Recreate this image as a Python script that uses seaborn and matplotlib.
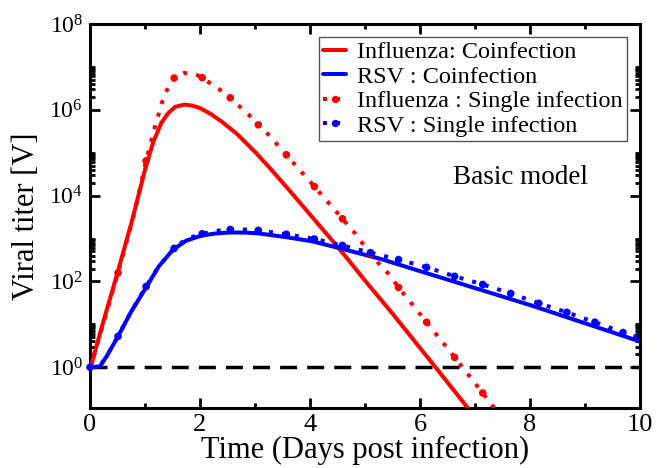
import numpy as np
import pandas as pd
import matplotlib
matplotlib.use("Agg")
import matplotlib.pyplot as plt
import seaborn as sns
from matplotlib.lines import Line2D
from matplotlib.legend_handler import HandlerLine2D
from matplotlib.ticker import FixedLocator, FuncFormatter

# ---------------- data (log10 of viral titer) ----------------
flu_co_t = [0, 0.25, 0.5, 0.75, 1.0, 1.15, 1.3, 1.42, 1.55, 1.71, 1.85, 2.0, 2.2, 2.4,
            2.67, 3.0, 3.3, 3.64, 4.0, 4.36, 4.7, 5.0, 5.5, 6.0, 6.27, 6.87, 7.2]
flu_co_log = [-0.05, 1.1, 2.2, 3.35, 4.6, 5.25, 5.7, 5.92, 6.07, 6.12, 6.1, 6.04, 5.9, 5.72,
              5.44, 5.02, 4.6, 4.1, 3.56, 3.02, 2.5, 2.02, 1.25, 0.45, 0.02, -0.95, -1.5]

rsv_co_t = [0, 0.18, 0.3, 0.51, 0.75, 1.03, 1.25, 1.51, 1.75, 2.03, 2.3, 2.55, 2.8,
            3.06, 3.58, 4.06, 4.55, 5.27, 6.0, 8.0, 10.0]
rsv_co_log = [0.0, 0.02, 0.25, 0.72, 1.3, 1.88, 2.35, 2.74, 2.95, 3.07, 3.12, 3.14, 3.14,
              3.12, 3.03, 2.93, 2.77, 2.53, 2.24, 1.45, 0.6]

flu_si_t = [0, 0.51, 0.8, 1.02, 1.11, 1.17, 1.24, 1.3, 1.38, 1.53, 1.71, 1.94, 2.04, 2.15,
            2.35, 2.55, 2.71, 2.89, 3.06, 3.23, 3.39, 3.57, 4.08, 4.59, 4.82, 4.96, 5.1,
            5.25, 5.42, 5.61, 6.12, 6.63, 7.14, 7.35, 7.6]
flu_si_log = [-0.05, 2.2, 3.55, 4.81, 5.26, 5.56, 5.86, 6.14, 6.42, 6.74, 6.86, 6.81, 6.75,
              6.65, 6.48, 6.28, 6.09, 5.88, 5.65, 5.44, 5.21, 4.95, 4.21, 3.46, 3.12, 2.88,
              2.65, 2.42, 2.19, 1.86, 1.05, 0.23, -0.6, -0.95, -1.35]
flu_si_mark_t = [0.51, 1.02, 1.53, 2.04, 2.55, 3.06, 3.57, 4.08, 4.59, 5.1, 5.61, 6.12,
                 6.63, 7.14]
flu_si_mark_log = [2.2, 4.81, 6.74, 6.75, 6.28, 5.65, 4.95, 4.21, 3.46, 2.65, 1.86, 1.05,
                   0.23, -0.6]

rsv_si_t = [0, 0.18, 0.3, 0.51, 0.75, 1.02, 1.25, 1.53, 1.75, 2.04, 2.3, 2.55, 2.8, 3.06,
            3.57, 4.08, 4.59, 5.1, 5.61, 6.12, 6.63, 7.14, 7.65, 8.16, 8.67, 9.18, 9.69,
            10.0]
rsv_si_log = [0.0, 0.03, 0.25, 0.72, 1.3, 1.88, 2.35, 2.77, 2.99, 3.11, 3.18, 3.21, 3.21,
              3.19, 3.10, 2.99, 2.84, 2.67, 2.51, 2.33, 2.12, 1.93, 1.72, 1.49, 1.28, 1.05,
              0.81, 0.68]
rsv_si_mark_t = [0, 0.51, 1.02, 1.53, 2.04, 2.55, 3.06, 3.57, 4.08, 4.59, 5.1, 5.61, 6.12,
                 6.63, 7.14, 7.65, 8.16, 8.67, 9.18, 9.69]
rsv_si_mark_log = [0.0, 0.72, 1.88, 2.77, 3.11, 3.21, 3.19, 3.10, 2.99, 2.84, 2.67, 2.51,
                   2.33, 2.12, 1.93, 1.72, 1.49, 1.28, 1.05, 0.81]

labels = ["Influenza: Coinfection", "RSV : Coinfection",
          "Influenza : Single infection", "RSV : Single infection"]
x_ticks = [0, 2, 4, 6, 8, 10]
y_major_exp = [0, 2, 4, 6, 8]

# ---------------- style ----------------
sns.set_theme(style="ticks")
plt.rcParams["font.family"] = ["Liberation Serif", "DejaVu Serif"]
plt.rcParams["mathtext.fontset"] = "custom"
plt.rcParams["mathtext.rm"] = "Liberation Serif"
plt.rcParams["mathtext.it"] = "Liberation Serif:italic"
plt.rcParams["mathtext.bf"] = "Liberation Serif:bold"
for key in ["text.color", "axes.labelcolor", "xtick.color", "ytick.color",
            "axes.edgecolor", "xtick.labelcolor", "ytick.labelcolor"]:
    plt.rcParams[key] = "black"

RED = "#ff0000"
BLUE = "#0000ff"

fig = plt.figure(figsize=(6.65, 4.68), dpi=100)
ax = fig.add_axes([90 / 665, 1 - 408 / 468, 550 / 665, 384 / 468])

LW = 2.9
DOT = (0, (1.0, 2.25))


def df(t, lg):
    return pd.DataFrame({"t": t, "v": np.power(10.0, np.asarray(lg, dtype=float))})


# threshold line
ax.axhline(1.0, color="black", lw=2.5, dashes=(4.9, 2.9), zorder=1)

d = df(flu_co_t, flu_co_log)
sns.lineplot(data=d, x="t", y="v", ax=ax, color=RED, lw=LW, zorder=3, sort=False)
d = df(rsv_co_t, rsv_co_log)
sns.lineplot(data=d, x="t", y="v", ax=ax, color=BLUE, lw=LW, zorder=3, sort=False)

d = df(flu_si_t, flu_si_log)
sns.lineplot(data=d, x="t", y="v", ax=ax, color=RED, lw=LW, linestyle=DOT,
             dash_capstyle="butt", zorder=4, sort=False)
d = df(rsv_si_t, rsv_si_log)
sns.lineplot(data=d, x="t", y="v", ax=ax, color=BLUE, lw=LW, linestyle=DOT,
             dash_capstyle="butt", zorder=4, sort=False)

d = df(flu_si_mark_t, flu_si_mark_log)
sns.scatterplot(data=d, x="t", y="v", ax=ax, color=RED, s=30, edgecolor="none",
                zorder=5, clip_on=True)
d = df(rsv_si_mark_t, rsv_si_mark_log)
sns.scatterplot(data=d, x="t", y="v", ax=ax, color=BLUE, s=30, edgecolor="none",
                zorder=5, clip_on=False)

# ---------------- axes ----------------
ax.set_yscale("log")
ax.set_xlim(0, 10)
ax.set_ylim(10 ** -0.95, 1e8)

ax.xaxis.set_major_locator(FixedLocator(x_ticks))
ax.xaxis.set_minor_locator(FixedLocator([1, 3, 5, 7, 9]))
ax.set_xticklabels([str(v) for v in x_ticks])

ax.yaxis.set_major_locator(FixedLocator([10.0 ** e for e in y_major_exp]))
minor = []
for e in [-2, 0, 2, 4, 6]:
    for k in range(2, 11):
        minor.append(k * 10.0 ** e)
ax.yaxis.set_minor_locator(FixedLocator(minor))
ax.yaxis.set_major_formatter(FuncFormatter(lambda v, p: r"$10^{%d}$" % round(np.log10(v))))
ax.yaxis.set_minor_formatter(FuncFormatter(lambda v, p: ""))

for s in ax.spines.values():
    s.set_linewidth(2.2)
    s.set_visible(True)
    s.set_color("black")

ax.tick_params(axis="both", which="major", direction="in", length=7, width=2,
               top=True, right=True, color="black", labelcolor="black")
ax.tick_params(axis="both", which="minor", direction="in", length=3.6, width=2,
               top=True, right=True, color="black")
ax.tick_params(axis="x", which="major", labelsize=19, pad=4)
ax.tick_params(axis="y", which="major", labelsize=17, pad=5)

ax.set_xlabel("Time (Days post infection)", fontsize=22, labelpad=0, color="black")
ax.set_ylabel("Viral titer [V]", fontsize=22, labelpad=6, color="black")

ax.text(0.782, 0.60, "Basic model", transform=ax.transAxes, fontsize=19.5,
        ha="center", va="center", color="black")


# ---------------- legend ----------------
class RightMarkerHandler(HandlerLine2D):
    def get_xdata(self, legend, xdescent, ydescent, width, height, fontsize):
        xdata = np.array([-xdescent, -xdescent + width])
        xdata_marker = np.array([-xdescent + width - 3.0])
        return xdata, xdata_marker


h1 = Line2D([], [], color=RED, lw=LW)
h2 = Line2D([], [], color=BLUE, lw=LW)
h3 = Line2D([], [], color=RED, lw=LW, linestyle=DOT, dash_capstyle="butt",
            marker="o", markersize=5.3, markeredgewidth=0)
h4 = Line2D([], [], color=BLUE, lw=LW, linestyle=DOT, dash_capstyle="butt",
            marker="o", markersize=5.3, markeredgewidth=0)
leg = ax.legend([h1, h2, h3, h4], labels, loc="upper right",
                bbox_to_anchor=(537 / 550, 1 - 13 / 384), borderaxespad=0,
                fontsize=17.5, frameon=True, fancybox=False, framealpha=1,
                edgecolor="#555555", handlelength=0.95, handletextpad=0.45,
                labelspacing=0.1, borderpad=0.18,
                handler_map={h3: RightMarkerHandler(), h4: RightMarkerHandler()})
leg.get_frame().set_linewidth(1.0)
for txt in leg.get_texts():
    txt.set_color("black")

fig.savefig("out.png", dpi=100)
